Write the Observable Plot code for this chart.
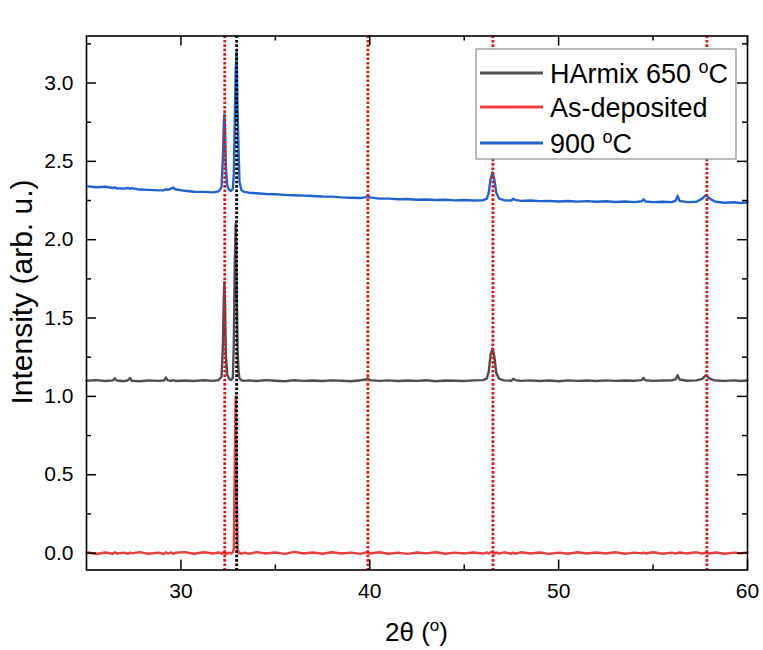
<!DOCTYPE html>
<html><head><meta charset="utf-8">
<script src="https://cdn.jsdelivr.net/npm/d3@7"></script>
<script src="https://cdn.jsdelivr.net/npm/@observablehq/plot@0.6"></script>
<style>body{margin:0;background:#fff}#chart{width:763px;height:650px;position:relative}</style>
</head><body><div id="chart"></div>
<script>
// 2θ sample positions (degrees)
const twoTheta = [
  25, 25.5, 26, 26.4, 26.5, 26.6, 27, 27.2, 27.3, 27.4,
  27.8, 28.3, 28.8, 29.1, 29.2, 29.3, 29.5, 29.6, 29.7, 30.2,
  30.7, 31.2, 31.7, 32.0, 32.15, 32.22, 32.27, 32.3, 32.33, 32.38,
  32.45, 32.55, 32.65, 32.75, 32.8, 32.85, 32.9, 32.95, 33.0, 33.05,
  33.1, 33.2, 33.35, 33.6, 34, 34.5, 35, 35.5, 36, 36.5,
  37, 37.5, 38, 38.5, 39, 39.5, 39.8, 39.9, 40.0, 40.5,
  41, 41.5, 42, 42.5, 43, 43.5, 44, 44.5, 45, 45.5,
  46, 46.2, 46.3, 46.4, 46.5, 46.6, 46.7, 46.85, 47.1, 47.5,
  47.6, 47.7, 48, 48.5, 49, 49.5, 50, 50.5, 51, 51.5,
  52, 52.5, 53, 53.5, 54, 54.4, 54.5, 54.6, 55, 55.5,
  56, 56.2, 56.3, 56.4, 56.8, 57.3, 57.6, 57.8, 58.0, 58.3,
  58.8, 59.3, 59.6, 60
];
// As-deposited (red)
const asDeposited = [
  0.005, -0.006, 0.004, -0.004, 0.006, -0.003, 0.003, -0.005, 0.004, -0.002,
  0.006, -0.004, 0.003, -0.006, 0.005, -0.003, 0.004, -0.005, 0.002, 0.006,
  -0.004, 0.005, -0.003, 0.004, -0.004, 0.003, -0.002, 0.005, -0.003, 0.002,
  -0.004, 0.004, -0.003, 0.005, 0.030, 0.550, 1.000, 0.420, 0.030, -0.003,
  0.004, -0.005, 0.003, -0.004, 0.006, -0.003, 0.004, -0.005, 0.008, -0.003,
  0.004, -0.004, 0.005, -0.003, 0.003, -0.005, 0.004, 0.002, -0.003, 0.005,
  -0.004, 0.003, -0.005, 0.004, -0.002, 0.005, -0.004, 0.003, -0.003, 0.004,
  -0.003, 0.004, -0.002, 0.005, 0.003, -0.004, 0.004, -0.003, 0.005, -0.004,
  0.003, -0.004, 0.005, -0.003, 0.004, -0.005, 0.003, -0.004, 0.005, -0.003,
  0.004, -0.003, 0.005, -0.004, 0.003, -0.002, 0.004, -0.003, 0.005, -0.004,
  0.003, -0.004, 0.002, 0.004, -0.003, 0.005, -0.004, 0.003, -0.003, 0.004,
  -0.004, 0.003, -0.002, 0.004
];
// HArmix 650 °C (grey)
const harmix650 = [
  1.100, 1.104, 1.098, 1.102, 1.115, 1.101, 1.097, 1.103, 1.118, 1.100,
  1.097, 1.102, 1.099, 1.101, 1.120, 1.102, 1.099, 1.104, 1.098, 1.101,
  1.098, 1.103, 1.099, 1.104, 1.125, 1.320, 1.620, 1.730, 1.600, 1.260,
  1.140, 1.112, 1.104, 1.118, 1.330, 1.850, 2.100, 1.720, 1.300, 1.160,
  1.115, 1.103, 1.099, 1.102, 1.098, 1.104, 1.100, 1.097, 1.103, 1.099,
  1.101, 1.098, 1.102, 1.100, 1.097, 1.103, 1.108, 1.115, 1.104, 1.099,
  1.102, 1.098, 1.101, 1.099, 1.103, 1.097, 1.101, 1.100, 1.098, 1.102,
  1.104, 1.115, 1.160, 1.270, 1.305, 1.250, 1.150, 1.112, 1.102, 1.100,
  1.112, 1.104, 1.099, 1.102, 1.098, 1.101, 1.097, 1.102, 1.099, 1.101,
  1.098, 1.102, 1.099, 1.101, 1.100, 1.104, 1.118, 1.103, 1.099, 1.101,
  1.102, 1.110, 1.135, 1.108, 1.100, 1.102, 1.112, 1.135, 1.113, 1.101,
  1.099, 1.102, 1.098, 1.101
];
// 900 °C (blue)
const annealed900 = [
  2.342, 2.335, 2.338, 2.330, 2.334, 2.328, 2.326, 2.331, 2.325, 2.329,
  2.320, 2.318, 2.315, 2.316, 2.322, 2.318, 2.328, 2.333, 2.322, 2.312,
  2.306, 2.305, 2.302, 2.308, 2.335, 2.520, 2.740, 2.800, 2.720, 2.460,
  2.345, 2.318, 2.312, 2.325, 2.420, 2.760, 3.080, 3.200, 2.820, 2.580,
  2.370, 2.318, 2.305, 2.300, 2.296, 2.292, 2.290, 2.286, 2.284, 2.281,
  2.279, 2.276, 2.275, 2.270, 2.268, 2.266, 2.272, 2.280, 2.270, 2.262,
  2.262, 2.258, 2.260, 2.255, 2.257, 2.253, 2.255, 2.251, 2.253, 2.250,
  2.252, 2.262, 2.300, 2.390, 2.430, 2.380, 2.300, 2.262, 2.252, 2.250,
  2.262, 2.254, 2.248, 2.250, 2.246, 2.248, 2.244, 2.247, 2.243, 2.246,
  2.242, 2.245, 2.241, 2.244, 2.240, 2.245, 2.258, 2.244, 2.240, 2.242,
  2.240, 2.250, 2.280, 2.248, 2.240, 2.242, 2.262, 2.285, 2.262, 2.242,
  2.236, 2.239, 2.234, 2.237
];
const seriesKeys = ["harmix650", "asDeposited", "annealed900"];
const seriesLabels = [["HArmix 650 ", "o", "C"], ["As-deposited"], ["900 ", "o", "C"]];
const seriesColors = ["#4f4f4f", "#ee3d3d", "#1f63d1"];
const redRefLines = [32.32, 39.9, 46.52, 57.85];
const blackRefLines = [32.95];
const xMajor = [30, 40, 50, 60];
const xMinor = [35, 45, 55];
const yMajor = [0, 0.5, 1.0, 1.5, 2.0, 2.5, 3.0];
const yMinor = [0.25, 0.75, 1.25, 1.75, 2.25, 2.75, 3.25];

const table = twoTheta.map((t, i) => ({
  theta: t, asDeposited: asDeposited[i], harmix650: harmix650[i], annealed900: annealed900[i]
}));

const W = 763, H = 650, mL = 86, mR = 16, mT = 35.5, mB = 80.5;
const innerW = W - mL - mR, innerH = H - mT - mB;
const tickColor = "#000";
const font = "'Liberation Sans', Arial, sans-serif";

const svg = Plot.plot({
  width: W, height: H,
  marginLeft: mL, marginRight: mR, marginTop: mT, marginBottom: mB,
  style: {fontFamily: font, fontSize: "21px", color: "#000", background: "#fff"},
  x: {domain: [25, 60]},
  y: {domain: [-0.108, 3.30]},
  marks: [
    ...seriesKeys.map((k, i) => Plot.line(table, {x: "theta", y: k, stroke: seriesColors[i], strokeWidth: 2.4})),
    Plot.ruleX(redRefLines, {stroke: "#e31515", strokeWidth: 2.8, strokeDasharray: "2.6,1.8"}),
    Plot.ruleX(blackRefLines, {stroke: "#000", strokeWidth: 2.8, strokeDasharray: "2.6,1.8"}),
    // inward ticks on all four sides
    Plot.ruleX(xMajor, {insetTop: innerH - 10, stroke: tickColor, strokeWidth: 1.5}),
    Plot.ruleX(xMinor, {insetTop: innerH - 5, stroke: tickColor, strokeWidth: 1.5}),
    Plot.ruleX(xMajor, {insetBottom: innerH - 10, stroke: tickColor, strokeWidth: 1.5}),
    Plot.ruleX(xMinor, {insetBottom: innerH - 5, stroke: tickColor, strokeWidth: 1.5}),
    Plot.ruleY(yMajor, {insetRight: innerW - 10, stroke: tickColor, strokeWidth: 1.5}),
    Plot.ruleY(yMinor, {insetRight: innerW - 5, stroke: tickColor, strokeWidth: 1.5}),
    Plot.ruleY(yMajor, {insetLeft: innerW - 10, stroke: tickColor, strokeWidth: 1.5}),
    Plot.ruleY(yMinor, {insetLeft: innerW - 5, stroke: tickColor, strokeWidth: 1.5}),
    Plot.axisX({ticks: xMajor, tickSize: 0, tickPadding: 13, tickFormat: d => String(d), label: null}),
    Plot.axisY({ticks: yMajor, tickSize: 0, tickPadding: 13, tickFormat: d3.format(".1f"), label: null}),
    Plot.frame({stroke: "#000", strokeWidth: 1.6})
  ]
});
document.getElementById("chart").appendChild(svg);

const root = d3.select(svg);

function supText(sel, parts, size) {
  const shift = Math.round(size * 0.38);
  parts.forEach((p, j) => {
    if (j === 1) sel.append("tspan").attr("font-size", Math.round(size * 0.65)).attr("dy", -shift).text(p);
    else if (j === 2) sel.append("tspan").attr("dy", shift).text(p);
    else sel.append("tspan").text(p);
  });
}

// axis titles
const xt = root.append("text").attr("x", mL + innerW / 2).attr("y", 641)
  .attr("text-anchor", "middle").attr("font-family", font).attr("font-size", 26).attr("fill", "#000");
supText(xt, ["2θ (", "o", ")"], 26);

root.append("text").attr("transform", `translate(32,292) rotate(-90)`)
  .attr("text-anchor", "middle").attr("font-family", font).attr("font-size", 30).attr("fill", "#000")
  .text("Intensity (arb. u.)");

// legend
const lg = root.append("g");
lg.append("rect").attr("x", 476).attr("y", 49).attr("width", 260).attr("height", 110)
  .attr("fill", "#fff").attr("stroke", "#8c8c8c").attr("stroke-width", 1.2);
const rowY = [73, 107, 143];
seriesLabels.forEach((parts, i) => {
  lg.append("line").attr("x1", 480).attr("x2", 543).attr("y1", rowY[i]).attr("y2", rowY[i])
    .attr("stroke", seriesColors[i]).attr("stroke-width", 3);
  const t = lg.append("text").attr("x", 550).attr("y", rowY[i] + 9.5).attr("text-anchor", "start")
    .attr("font-family", font).attr("font-size", 27).attr("fill", "#000");
  supText(t, parts, 27);
});
</script>
</body></html>
